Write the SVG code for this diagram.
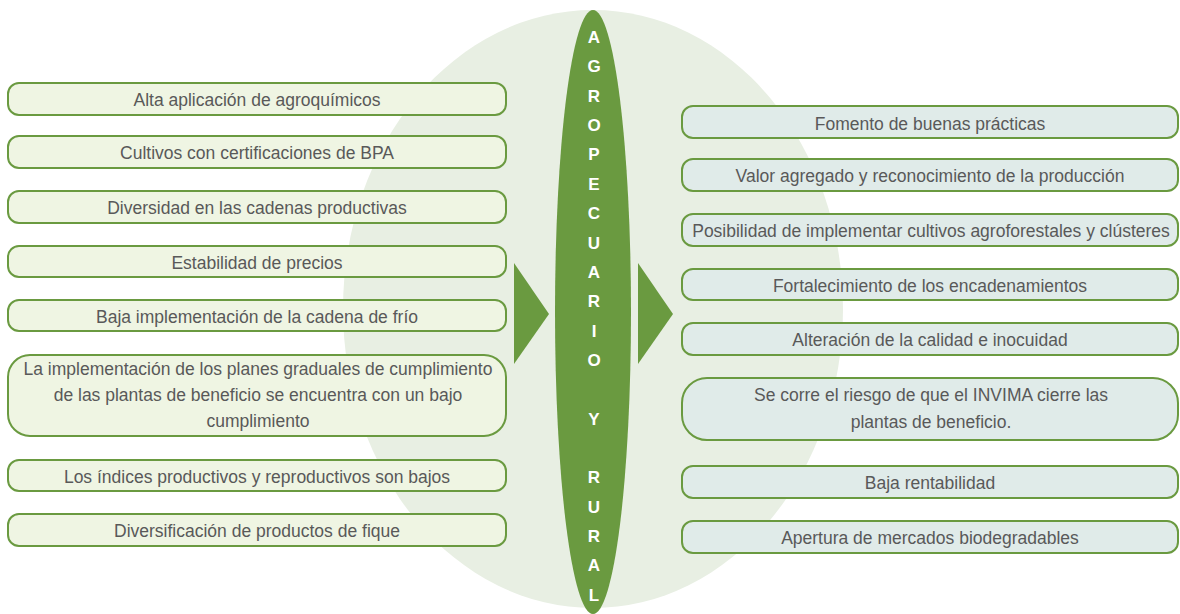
<svg xmlns="http://www.w3.org/2000/svg" width="1180" height="614" viewBox="0 0 1180 614">
<style>
.bl{fill:#eff5e3;stroke:#6a9a40;stroke-width:2}
.br{fill:#e0ebe9;stroke:#6a9a40;stroke-width:2}
.t{font-family:"Liberation Sans",Arial,sans-serif;font-size:17.5px;fill:#595959;text-anchor:middle}
.v{font-family:"Liberation Sans",Arial,sans-serif;font-size:17px;font-weight:bold;fill:#ffffff;text-anchor:middle}
</style>
<rect width="1180" height="614" fill="#ffffff"/>
<g id="background">
<ellipse cx="593" cy="309" rx="250" ry="299" fill="#e8efe3"/>
</g>
<g id="connectors">
<polygon points="514,263 549,314 514,364" fill="#6a9a40"/>
<polygon points="638,263 673,314 638,364" fill="#6a9a40"/>
</g>
<g id="center">
<ellipse cx="593" cy="312" rx="38" ry="302" fill="#6a9a40"/>
<text class="v" x="594" y="43">A</text>
<text class="v" x="594" y="72.4">G</text>
<text class="v" x="594" y="101.7">R</text>
<text class="v" x="594" y="131">O</text>
<text class="v" x="594" y="160.4">P</text>
<text class="v" x="594" y="189.8">E</text>
<text class="v" x="594" y="219.1">C</text>
<text class="v" x="594" y="248.5">U</text>
<text class="v" x="594" y="277.8">A</text>
<text class="v" x="594" y="307.2">R</text>
<text class="v" x="594" y="336.5">I</text>
<text class="v" x="594" y="365.9">O</text>
<text class="v" x="594" y="424.6">Y</text>
<text class="v" x="594" y="483.3">R</text>
<text class="v" x="594" y="512.6">U</text>
<text class="v" x="594" y="542">R</text>
<text class="v" x="594" y="571.4">A</text>
<text class="v" x="594" y="600.7">L</text>
</g>
<g id="l1"><rect class="bl" x="8" y="83" width="498" height="32" rx="11"/><text class="t" x="257" y="106">Alta aplicación de agroquímicos</text></g>
<g id="l2"><rect class="bl" x="8" y="136" width="498" height="32" rx="11"/><text class="t" x="257" y="159">Cultivos con certificaciones de BPA</text></g>
<g id="l3"><rect class="bl" x="8" y="191" width="498" height="32" rx="11"/><text class="t" x="257" y="214">Diversidad en las cadenas productivas</text></g>
<g id="l4"><rect class="bl" x="8" y="246" width="498" height="31" rx="11"/><text class="t" x="257" y="268.5">Estabilidad de precios</text></g>
<g id="l5"><rect class="bl" x="8" y="300" width="498" height="31" rx="11"/><text class="t" x="257" y="322.5">Baja implementación de la cadena de frío</text></g>
<g id="l6"><rect class="bl" x="8" y="355" width="498" height="81" rx="22"/>
<text class="t" x="258" y="375">La implementación de los planes graduales de cumplimiento</text>
<text class="t" x="258" y="401">de las plantas de beneficio se encuentra con un bajo</text>
<text class="t" x="258" y="427">cumplimiento</text></g>
<g id="l7"><rect class="bl" x="8" y="460" width="498" height="31" rx="11"/><text class="t" x="257" y="482.5">Los índices productivos y reproductivos son bajos</text></g>
<g id="l8"><rect class="bl" x="8" y="514" width="498" height="32" rx="11"/><text class="t" x="257" y="537">Diversificación de productos de fique</text></g>
<g id="r1"><rect class="br" x="682" y="106" width="496" height="32" rx="11"/><text class="t" x="930" y="129.5">Fomento de buenas prácticas</text></g>
<g id="r2"><rect class="br" x="682" y="159" width="496" height="32" rx="11"/><text class="t" x="930" y="182">Valor agregado y reconocimiento de la producción</text></g>
<g id="r3"><rect class="br" x="682" y="214" width="496" height="32" rx="11"/><text class="t" x="931" y="237">Posibilidad de implementar cultivos agroforestales y clústeres</text></g>
<g id="r4"><rect class="br" x="682" y="269" width="496" height="31" rx="11"/><text class="t" x="930" y="291.5">Fortalecimiento de los encadenamientos</text></g>
<g id="r5"><rect class="br" x="682" y="323" width="496" height="32" rx="11"/><text class="t" x="930" y="346">Alteración de la calidad e inocuidad</text></g>
<g id="r6"><rect class="br" x="682" y="378" width="496" height="62" rx="25"/>
<text class="t" x="931" y="401">Se corre el riesgo de que el INVIMA cierre las</text>
<text class="t" x="931" y="428">plantas de beneficio.</text></g>
<g id="r7"><rect class="br" x="682" y="466" width="496" height="32" rx="11"/><text class="t" x="930" y="489">Baja rentabilidad</text></g>
<g id="r8"><rect class="br" x="682" y="521" width="496" height="32" rx="11"/><text class="t" x="930" y="544">Apertura de mercados biodegradables</text></g>
</svg>
